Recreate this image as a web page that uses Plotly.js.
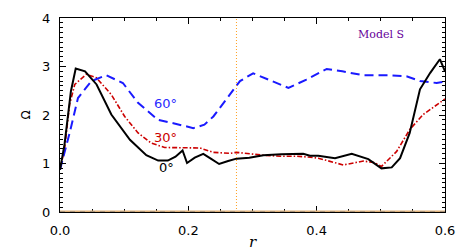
<!DOCTYPE html>
<html>
<head>
<meta charset="utf-8">
<script src="https://cdn.plot.ly/plotly-3.0.1.min.js"></script>
<style>html,body{margin:0;padding:0;background:#fff;}#chart{width:463px;height:251px;}</style>
</head>
<body>
<div id="chart"></div>
<script>
// 0 degrees (black, solid)
const r0 = [0, 0.007, 0.017, 0.0245, 0.039, 0.057, 0.080, 0.109, 0.1345, 0.153, 0.168, 0.180, 0.191, 0.198, 0.210, 0.2233, 0.235, 0.248, 0.262, 0.275, 0.295, 0.317, 0.345, 0.379, 0.3896, 0.4025, 0.4286, 0.4546, 0.4805, 0.492, 0.501, 0.517, 0.53, 0.545, 0.561, 0.577, 0.592, 0.6];
const omega0 = [0.87, 1.39, 2.49, 2.96, 2.90, 2.63, 2.01, 1.49, 1.17, 1.06, 1.06, 1.14, 1.27, 1.01, 1.12, 1.20, 1.10, 0.99, 1.05, 1.10, 1.12, 1.17, 1.19, 1.20, 1.16, 1.16, 1.11, 1.20, 1.09, 0.98, 0.90, 0.92, 1.11, 1.63, 2.53, 2.87, 3.15, 2.90];
// 30 degrees (red, dash-dot)
const r30 = [0, 0.0073, 0.015, 0.023, 0.041, 0.0566, 0.080, 0.1008, 0.1216, 0.1423, 0.163, 0.194, 0.218, 0.239, 0.265, 0.275, 0.317, 0.343, 0.369, 0.39, 0.4025, 0.4415, 0.4727, 0.49, 0.501, 0.5247, 0.545, 0.566, 0.6];
const omega30 = [0.87, 1.32, 2.22, 2.63, 2.84, 2.77, 2.42, 1.97, 1.63, 1.42, 1.33, 1.32, 1.32, 1.23, 1.21, 1.23, 1.17, 1.15, 1.15, 1.13, 1.11, 0.97, 1.05, 1.02, 0.94, 1.25, 1.70, 2.01, 2.33];
// 60 degrees (blue, dashed)
const r60 = [0, 0.015, 0.028, 0.049, 0.072, 0.098, 0.1216, 0.1527, 0.1766, 0.197, 0.2078, 0.225, 0.239, 0.255, 0.27, 0.2805, 0.301, 0.332, 0.356, 0.384, 0.4156, 0.44, 0.4727, 0.514, 0.54, 0.561, 0.587, 0.6];
const omega60 = [0.87, 1.63, 2.35, 2.70, 2.82, 2.66, 2.25, 1.90, 1.83, 1.77, 1.73, 1.80, 1.97, 2.25, 2.53, 2.70, 2.86, 2.70, 2.56, 2.73, 2.95, 2.90, 2.82, 2.82, 2.80, 2.70, 2.66, 2.69];

const curveLabels = ['0°', '30°', '60°'];
const labelR = [0.166, 0.164, 0.164];
const labelOmega = [0.91, 1.53, 2.24];
const modelLabel = 'Model S';
const rcz = 0.275;
const rRange = [0, 0.6];
const omegaRange = [0, 4];

const traces = [
  {x: r30, y: omega30, mode: 'lines', line: {color: '#cc0000', width: 1.6, dash: '5px,2px,1.5px,2px'}, hoverinfo: 'skip'},
  {x: r60, y: omega60, mode: 'lines', line: {color: '#1a1aff', width: 2, dash: '9px,5px'}, hoverinfo: 'skip'},
  {x: r0, y: omega0, xaxis: 'x2', yaxis: 'y2', mode: 'lines', line: {color: '#000000', width: 2}, hoverinfo: 'skip'}
];

const labelColors = ['#000000', '#cc0000', '#2a2aff'];
const annotations = curveLabels.map((t, i) => ({
  x: labelR[i], y: labelOmega[i], xref: 'x', yref: 'y', text: t, showarrow: false,
  font: {family: 'DejaVu Sans, sans-serif', size: 13, color: labelColors[i]}
}));
annotations.push({
  x: 0.5, y: 3.66, xref: 'x', yref: 'y', text: modelLabel, showarrow: false,
  font: {family: 'DejaVu Serif, serif', size: 11, color: '#660099'}
});

const tickFont = {family: 'DejaVu Sans, sans-serif', size: 13, color: '#000'};

const layout = {
  width: 463, height: 251,
  margin: {l: 60, r: 18, t: 18, b: 39, pad: 0},
  paper_bgcolor: '#fff', plot_bgcolor: '#fff',
  showlegend: false,
  // main axes: labelled major ticks
  xaxis: {
    range: rRange, dtick: 0.2, tickformat: '.1f',
    showgrid: false, zeroline: false, showline: true, linecolor: 'black',
    mirror: 'allticks', ticks: 'inside', ticklen: 6, tickcolor: 'black', tickwidth: 1,
    tickfont: tickFont, ticklabelstandoff: 6,
    title: {text: '<i>r</i>', font: {family: 'DejaVu Serif, serif', size: 15, color: '#000'}, standoff: 2}
  },
  yaxis: {
    range: omegaRange, dtick: 1,
    showgrid: false, zeroline: false, showline: true, linecolor: 'black',
    mirror: 'allticks', ticks: 'inside', ticklen: 6, tickcolor: 'black', tickwidth: 1,
    tickfont: tickFont, ticklabelstandoff: 6,
    title: {text: 'Ω', font: {family: 'DejaVu Sans, sans-serif', size: 12, color: '#000'}, standoff: 8}
  },
  // overlaid axes: unlabelled minor ticks
  xaxis2: {
    overlaying: 'x', anchor: 'y2', side: 'bottom', range: rRange, dtick: 0.05,
    showgrid: false, zeroline: false, showline: false, showticklabels: false,
    mirror: 'allticks', ticks: 'inside', ticklen: 3, tickcolor: 'black', tickwidth: 1
  },
  yaxis2: {
    overlaying: 'y', anchor: 'x2', side: 'left', range: omegaRange, dtick: 0.1,
    showgrid: false, zeroline: false, showline: false, showticklabels: false,
    mirror: 'allticks', ticks: 'inside', ticklen: 3, tickcolor: 'black', tickwidth: 1
  },
  shapes: [
    {type: 'line', xref: 'x', yref: 'y', x0: rcz, x1: rcz, y0: 0, y1: 4,
     line: {color: '#ffa020', width: 1, dash: '1px,2px'}},
    {type: 'line', xref: 'x', yref: 'y', x0: 0, x1: 0.6, y0: 0, y1: 0,
     line: {color: '#e0b27a', width: 3}},
    {type: 'line', xref: 'x', yref: 'y', x0: 0, x1: 0.6, y0: 0, y1: 0,
     line: {color: '#777777', width: 1, dash: '5px,5px'}}
  ],
  annotations: annotations
};

Plotly.newPlot('chart', traces, layout, {staticPlot: true, displayModeBar: false});
</script>
</body>
</html>
